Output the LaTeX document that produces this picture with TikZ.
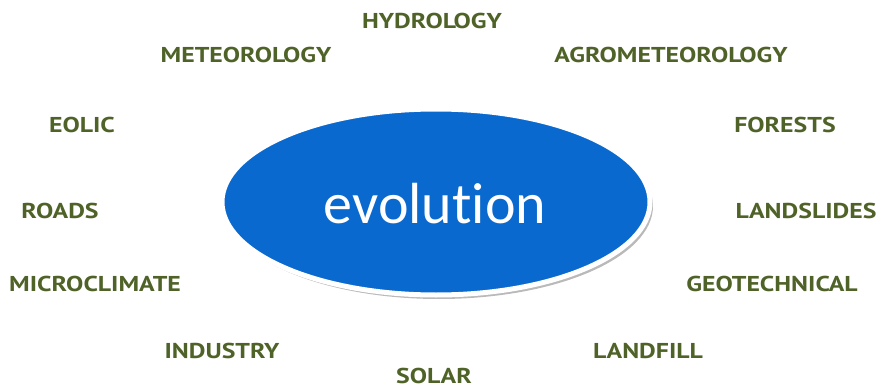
\documentclass[tikz,border=0pt]{standalone}
\usepackage{fontspec}
\setmainfont{PT Sans}
\newfontfamily\fieldfont[FakeStretch=1.2]{PT Sans}
\newfontfamily\evofont[Ligatures=NoCommon]{Carlito}
\usepackage{tikz}
\usetikzlibrary{shapes.geometric}
\usetikzlibrary{shadows}

\definecolor{evoblue}{HTML}{0A69CF}
\definecolor{fieldgreen}{HTML}{4F6228}

\begin{document}
\begin{tikzpicture}[x=1pt,y=-1pt,thick]
\tikzstyle{field} = [text=fieldgreen, font=\fieldfont\fontsize{21.5}{21.5}\selectfont\bfseries, inner sep=0, anchor=base]
\tikzstyle{core} = [ellipse, fill=evoblue, draw=white, line width=5, minimum width=428, minimum height=186,
drop shadow={shadow xshift=3pt, shadow yshift=-4pt, fill=gray!55, opacity=1}];
\useasboundingbox (0,0) rectangle (877,390);
% centre
\node [core] (evo) at (436,202) {};
\node [text=white, font=\evofont\fontsize{58}{58}\selectfont, inner sep=0, anchor=base] (evotext) at (435,223) {evolution};
% top
\node [field] (hydro) at (432,29) {HYDROLOGY};
\node [field] (meteo) at (246,63) {METEOROLOGY};
\node [field] (agro) at (671,63) {AGROMETEOROLOGY};
% sides
\node [field] (eolic) at (82,133) {EOLIC};
\node [field] (forest) at (785,133) {FORESTS};
\node [field] (roads) at (60,218) {ROADS};
\node [field] (slides) at (806,218) {LANDSLIDES};
\node [field] (micro) at (95,291) {MICROCLIMATE};
\node [field] (geo) at (772,291) {GEOTECHNICAL};
% bottom
\node [field] (industry) at (222,358) {INDUSTRY};
\node [field] (landfill) at (648,358) {LANDFILL};
\node [field] (solar) at (434,383) {SOLAR};
\end{tikzpicture}
\end{document}
